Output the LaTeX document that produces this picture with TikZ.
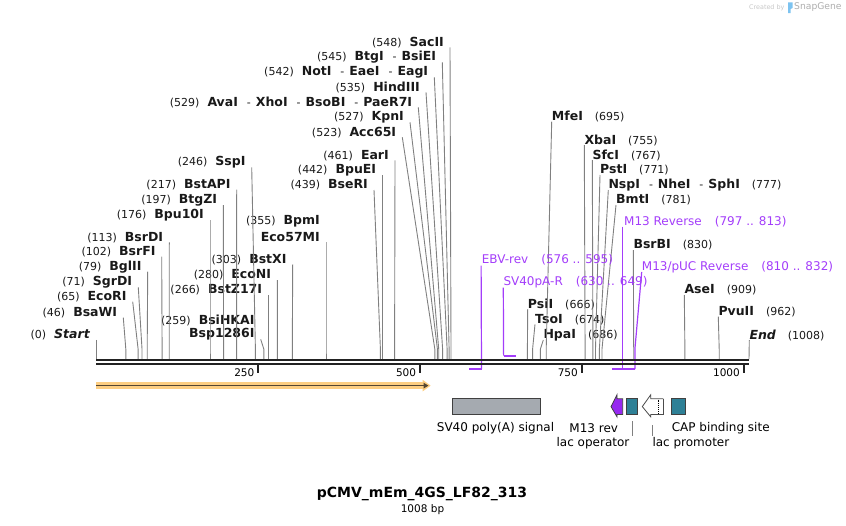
\documentclass[tikz,border=0pt]{standalone}
\usepackage{fontspec}
\setmainfont{DejaVu Sans}
\definecolor{cutgray}{RGB}{128,128,128}
\definecolor{primerpurple}{RGB}{163,61,250}
\definecolor{m13purple}{RGB}{150,40,240}
\definecolor{featteal}{RGB}{46,128,150}
\definecolor{featgray}{RGB}{165,170,176}
\definecolor{halo}{RGB}{253,206,130}
\definecolor{featdark}{RGB}{85,70,50}
\definecolor{backbone}{RGB}{34,34,34}
\definecolor{logoblue}{RGB}{125,195,240}
\usetikzlibrary{arrows.meta, calc}
\newcommand{\enz}[1]{{\fontsize{12.5}{14}\selectfont\bfseries #1}}
\newcommand{\enzend}[1]{{\fontsize{12.5}{14}\selectfont\bfseries\itshape #1}}
\newcommand{\enzsep}{\hspace{9pt}-\hspace{5pt}}
\tikzset{
    lsite/.style={anchor=east, inner sep=0pt, font=\fontsize{11}{13}\selectfont, text=black!90},
    rsite/.style={anchor=west, inner sep=0pt, font=\fontsize{11}{13}\selectfont, text=black!90},
    cutline/.style={draw=cutgray, line width=0.9pt},
    primerlbl/.style={anchor=west, inner sep=0pt, font=\fontsize{12}{14}\selectfont, text=primerpurple},
    primerline/.style={draw=primerpurple, line width=1.2pt},
    primerbar/.style={draw=primerpurple, line width=2pt},
    bbline/.style={draw=backbone, line width=2pt},
    tickline/.style={draw=backbone, line width=1.6pt},
    ticklbl/.style={anchor=east, inner sep=0pt, font=\fontsize{10.5}{12}\selectfont},
    featlbl/.style={inner sep=0pt, font=\fontsize{12}{14}\selectfont},
    featbox/.style={draw=black!75, line width=0.8pt, inner sep=0pt, minimum height=15.7pt},
}

\begin{document}
\begin{tikzpicture}[x=1pt, y=-1pt]
\useasboundingbox (0,0) rectangle (846,525);

% cut sites on the backbone
\coordinate (s0) at (96,359);
\coordinate (s46) at (125.8,359);
\coordinate (s65) at (138.1,359);
\coordinate (s71) at (142.0,359);
\coordinate (s79) at (147.2,359);
\coordinate (s102) at (162.1,359);
\coordinate (s113) at (169.2,359);
\coordinate (s176) at (210.0,359);
\coordinate (s197) at (223.6,359);
\coordinate (s217) at (236.6,359);
\coordinate (s246) at (255.4,359);
\coordinate (s259) at (263.8,359);
\coordinate (s266) at (268.3,359);
\coordinate (s280) at (277.4,359);
\coordinate (s303) at (292.3,359);
\coordinate (s355) at (326.0,359);
\coordinate (s439) at (380.4,359);
\coordinate (s442) at (382.3,359);
\coordinate (s461) at (394.6,359);
\coordinate (s523) at (434.8,359);
\coordinate (s527) at (437.4,359);
\coordinate (s529) at (438.7,359);
\coordinate (s535) at (442.6,359);
\coordinate (s542) at (447.1,359);
\coordinate (s545) at (449.1,359);
\coordinate (s548) at (451.0,359);
\coordinate (s666) at (527.4,359);
\coordinate (s674) at (532.6,359);
\coordinate (s686) at (540.4,359);
\coordinate (s695) at (546.2,359);
\coordinate (s755) at (585.1,359);
\coordinate (s767) at (592.9,359);
\coordinate (s771) at (595.5,359);
\coordinate (s777) at (599.4,359);
\coordinate (s781) at (602.0,359);
\coordinate (s830) at (633.7,359);
\coordinate (s909) at (684.9,359);
\coordinate (s962) at (719.2,359);
\coordinate (s1008) at (749.0,359);

% enzymes, left of their lines
\node[lsite] (start) at (90,334.3) {(0)\hspace{8pt}\enzend{Start}};
\node[lsite] (bsawi) at (117.3,312.7) {(46)\hspace{8pt}\enz{BsaWI}};
\node[lsite] (ecori) at (126.7,296.7) {(65)\hspace{8pt}\enz{EcoRI}};
\node[lsite] (sgrdi) at (132.3,282.3) {(71)\hspace{8pt}\enz{SgrDI}};
\node[lsite] (bglii) at (141.7,266.7) {(79)\hspace{8pt}\enz{BglII}};
\node[lsite] (bsrfi) at (155.7,251.7) {(102)\hspace{8pt}\enz{BsrFI}};
\node[lsite] (bsrdi) at (163.3,237.3) {(113)\hspace{8pt}\enz{BsrDI}};
\node[lsite] (bpuioi) at (204,215) {(176)\hspace{8pt}\enz{Bpu10I}};
\node[lsite] (btgzi) at (217.3,200) {(197)\hspace{8pt}\enz{BtgZI}};
\node[lsite] (bstapi) at (230.7,184.7) {(217)\hspace{8pt}\enz{BstAPI}};
\node[lsite] (sspi) at (245.7,162.3) {(246)\hspace{8pt}\enz{SspI}};
\node[lsite] (bsihkai) at (254.7,320) {(259)\hspace{8pt}\enz{BsiHKAI}};
\node[lsite] (bsp1286i) at (254.7,334.3) {\enz{Bsp1286I}};
\node[lsite] (bstz17i) at (262.3,290) {(266)\hspace{8pt}\enz{BstZ17I}};
\node[lsite] (econi) at (271.3,275) {(280)\hspace{8pt}\enz{EcoNI}};
\node[lsite] (bstxi) at (286.7,259.3) {(303)\hspace{8pt}\enz{BstXI}};
\node[lsite] (bpmi) at (320,221.7) {(355)\hspace{8pt}\enz{BpmI}};
\node[lsite] (eco57mi) at (320,237.3) {\enz{Eco57MI}};
\node[lsite] (bseri) at (368,185) {(439)\hspace{8pt}\enz{BseRI}};
\node[lsite] (bpuei) at (376.3,170.3) {(442)\hspace{8pt}\enz{BpuEI}};
\node[lsite] (eari) at (389,155.3) {(461)\hspace{8pt}\enz{EarI}};
\node[lsite] (acc65i) at (396.3,132.3) {(523)\hspace{8pt}\enz{Acc65I}};
\node[lsite] (kpni) at (404,117.3) {(527)\hspace{8pt}\enz{KpnI}};
\node[lsite] (avai) at (412.3,102.3) {(529)\hspace{8pt}\enz{AvaI}\enzsep\enz{XhoI}\enzsep\enz{BsoBI}\enzsep\enz{PaeR7I}};
\node[lsite] (hindiii) at (420,87.3) {(535)\hspace{8pt}\enz{HindIII}};
\node[lsite] (noti) at (428.3,72.3) {(542)\hspace{8pt}\enz{NotI}\enzsep\enz{EaeI}\enzsep\enz{EagI}};
\node[lsite] (btgi) at (436.3,57.3) {(545)\hspace{8pt}\enz{BtgI}\enzsep\enz{BsiEI}};
\node[lsite] (sacii) at (444,42.3) {(548)\hspace{8pt}\enz{SacII}};

\draw[cutline] ([xshift=6pt,yshift=-5.5pt]start.east) -- (s0);
\draw[cutline] ([xshift=6pt,yshift=-5pt]bsawi.east) -- ([yshift=10pt]s46) -- (s46);
\draw[cutline] ([xshift=6pt,yshift=-5pt]ecori.east) -- ([yshift=10pt]s65) -- (s65);
\draw[cutline] ([xshift=6pt,yshift=-5pt]sgrdi.east) -- ([yshift=10pt]s71) -- (s71);
\draw[cutline] ([xshift=6pt,yshift=-5pt]bglii.east) -- ([yshift=10pt]s79) -- (s79);
\draw[cutline] ([xshift=6pt,yshift=-5pt]bsrfi.east) -- ([yshift=10pt]s102) -- (s102);
\draw[cutline] ([xshift=6pt,yshift=-5pt]bsrdi.east) -- ([yshift=10pt]s113) -- (s113);
\draw[cutline] ([xshift=6pt,yshift=-5pt]bpuioi.east) -- ([yshift=10pt]s176) -- (s176);
\draw[cutline] ([xshift=6pt,yshift=-5pt]btgzi.east) -- ([yshift=10pt]s197) -- (s197);
\draw[cutline] ([xshift=6pt,yshift=-5pt]bstapi.east) -- ([yshift=10pt]s217) -- (s217);
\draw[cutline] ([xshift=6pt,yshift=-5pt]sspi.east) -- ([yshift=10pt]s246) -- (s246);
\draw[cutline] ([xshift=6pt,yshift=-5pt]bsp1286i.east) -- ([yshift=10pt]s259) -- (s259);
\draw[cutline] ([xshift=6pt,yshift=-5pt]bstz17i.east) -- ([yshift=10pt]s266) -- (s266);
\draw[cutline] ([xshift=6pt,yshift=-5pt]econi.east) -- ([yshift=10pt]s280) -- (s280);
\draw[cutline] ([xshift=6pt,yshift=-5pt]bstxi.east) -- ([yshift=10pt]s303) -- (s303);
\draw[cutline] ([xshift=6pt,yshift=-5pt]eco57mi.east) -- ([yshift=10pt]s355) -- (s355);
\draw[cutline] ([xshift=6pt,yshift=-5pt]bseri.east) -- ([yshift=10pt]s439) -- (s439);
\draw[cutline] ([xshift=6pt,yshift=-5pt]bpuei.east) -- ([yshift=10pt]s442) -- (s442);
\draw[cutline] ([xshift=6pt,yshift=-5pt]eari.east) -- ([yshift=10pt]s461) -- (s461);
\draw[cutline] ([xshift=6pt,yshift=-5pt]acc65i.east) -- ([yshift=10pt]s523) -- (s523);
\draw[cutline] ([xshift=6pt,yshift=-5pt]kpni.east) -- ([yshift=10pt]s527) -- (s527);
\draw[cutline] ([xshift=6pt,yshift=-5pt]avai.east) -- ([yshift=10pt]s529) -- (s529);
\draw[cutline] ([xshift=6pt,yshift=-5pt]hindiii.east) -- ([yshift=10pt]s535) -- (s535);
\draw[cutline] ([xshift=6pt,yshift=-5pt]noti.east) -- ([yshift=10pt]s542) -- (s542);
\draw[cutline] ([xshift=6pt,yshift=-5pt]btgi.east) -- ([yshift=10pt]s545) -- (s545);
\draw[cutline] ([xshift=6pt,yshift=-5pt]sacii.east) -- ([yshift=10pt]s548) -- (s548);

% enzymes, right of their lines
\node[rsite] (mfei) at (551.7,116.7) {\enz{MfeI}\hspace{12pt}(695)};
\node[rsite] (xbai) at (584.3,140) {\enz{XbaI}\hspace{12pt}(755)};
\node[rsite] (sfci) at (592.3,155) {\enz{SfcI}\hspace{12pt}(767)};
\node[rsite] (psti) at (600,170) {\enz{PstI}\hspace{12pt}(771)};
\node[rsite] (nspi) at (608.3,185) {\enz{NspI}\enzsep\enz{NheI}\enzsep\enz{SphI}\hspace{12pt}(777)};
\node[rsite] (bmti) at (616,200) {\enz{BmtI}\hspace{12pt}(781)};
\node[rsite] (bsrbi) at (633.3,245) {\enz{BsrBI}\hspace{12pt}(830)};
\node[rsite] (asei) at (684.3,290) {\enz{AseI}\hspace{12pt}(909)};
\node[rsite] (psii) at (527.7,304) {\enz{PsiI}\hspace{12pt}(666)};
\node[rsite] (pvuii) at (718.3,311.7) {\enz{PvuII}\hspace{12pt}(962)};
\node[rsite] (tsoi) at (535,319.3) {\enz{TsoI}\hspace{12pt}(674)};
\node[rsite] (hpai) at (543.3,335) {\enz{HpaI}\hspace{12pt}(686)};
\node[rsite] (endlbl) at (749.3,335) {\enzend{End}\hspace{12pt}(1008)};

\draw[cutline] ([yshift=-5pt]mfei.west) -- ([yshift=10pt]s695) -- (s695);
\draw[cutline] ([yshift=-5pt]xbai.west) -- ([yshift=10pt]s755) -- (s755);
\draw[cutline] ([yshift=-5pt]sfci.west) -- ([yshift=10pt]s767) -- (s767);
\draw[cutline] ([yshift=-5pt]psti.west) -- ([yshift=10pt]s771) -- (s771);
\draw[cutline] ([yshift=-5pt]nspi.west) -- ([yshift=10pt]s777) -- (s777);
\draw[cutline] ([yshift=-5pt]bmti.west) -- ([yshift=10pt]s781) -- (s781);
\draw[cutline] ([yshift=-5pt]bsrbi.west) -- ([yshift=10pt]s830) -- (s830);
\draw[cutline] ([yshift=-5pt]asei.west) -- ([yshift=10pt]s909) -- (s909);
\draw[cutline] ([yshift=-5pt]psii.west) -- ([yshift=10pt]s666) -- (s666);
\draw[cutline] ([yshift=-5pt]pvuii.west) -- ([yshift=10pt]s962) -- (s962);
\draw[cutline] ([yshift=-5pt]tsoi.west) -- ([yshift=10pt]s674) -- (s674);
\draw[cutline] ([yshift=-5pt]hpai.west) -- ([yshift=10pt]s686) -- (s686);
\draw[cutline] ([yshift=-5pt]endlbl.west) -- (s1008);

% primers
\coordinate (p576) at (469.1,369);
\coordinate (p595) at (481.5,369);
\coordinate (p630) at (503.6,355.5);
\coordinate (p649) at (515.6,355.5);
\coordinate (p797) at (612.3,369);
\coordinate (p813) at (622.7,369);
\coordinate (p810) at (620.7,369);
\coordinate (p832) at (635.0,369);

\node[primerlbl] (ebvrev) at (481.7,260) {EBV-rev\hspace{13pt}(576 .. 595)};
\node[primerlbl] (sv40par) at (503.3,281.7) {SV40pA-R\hspace{13pt}(630 .. 649)};
\node[primerlbl] (m13rev) at (624,221.7) {M13 Reverse\hspace{13pt}(797 .. 813)};
\node[primerlbl] (m13puc) at (641.7,266.7) {M13/pUC Reverse\hspace{13pt}(810 .. 832)};

\draw[primerline] ([xshift=-0.6pt,yshift=-5.5pt]ebvrev.west) -- (p595);
\draw[primerbar] (p576) -- (p595);
\draw[primerline] ([yshift=-6pt]sv40par.west) -- (p630);
\draw[primerbar] (p630) -- (p649);
\draw[primerline] ([xshift=-1.3pt,yshift=-5pt]m13rev.west) -- (p813);
\draw[primerbar] (p797) -- (p813);
\draw[primerline] ([yshift=-5.3pt]m13puc.west) -- ([yshift=21pt]p832) -- (p832);
\draw[primerbar] (p810) -- (p832);

% backbone and scale
\draw[bbline] (s0 |- 0,360) -- (s1008 |- 0,360);
\draw[bbline] (s0 |- 0,364) -- (s1008 |- 0,364);
\draw[tickline] (258,365) -- (258,372.5);
\draw[tickline] (420,365) -- (420,372.5);
\draw[tickline] (581.8,365) -- (581.8,372.5);
\draw[tickline] (743.7,365) -- (743.7,372.5);
\node[ticklbl] (t250) at (254.5,372.2) {250};
\node[ticklbl] (t500) at (416.3,372.2) {500};
\node[ticklbl] (t750) at (578,372.2) {750};
\node[ticklbl] (t1000) at (740,372.2) {1000};

% features
\draw[halo, line width=6.5pt, -{Triangle[length=8pt,width=11pt]}] (96,385.6) -- (430.7,385.6);
\draw[featdark, line width=1.6pt, -{Triangle[length=5pt,width=5.5pt]}] (96,385.6) -- (428.5,385.6);

\node[featbox, fill=featgray, minimum width=88.3pt] (sv40pa) at (496.5,406.6) {};
\node[featlbl] (sv40palbl) at (495.5,427.7) {SV40 poly(A) signal};

\filldraw[draw=black!75, fill=m13purple, line width=0.8pt] (622.7,398.8) -- (617,398.8) -- (617,394.8) -- (611,406.6) -- (617,416.8) -- (617,414.5) -- (622.7,414.5) -- cycle;
\node[featlbl] (m13revlbl) at (593.7,427.7) {M13 rev};

\node[featbox, fill=featteal, minimum width=11pt] (lacop) at (632.2,406.6) {};
\node[featlbl] (lacoplbl) at (593,443.3) {lac operator};
\draw[cutline] ([yshift=-6.5pt]lacop.south) -- ([yshift=-21.5pt]lacop.south);

\filldraw[draw=black!70, fill=white, line width=0.8pt] (663.3,398.8) -- (650.7,398.8) -- (650.7,394.8) -- (642.3,406.6) -- (650.7,416.8) -- (650.7,414.5) -- (663.3,414.5);
\draw[draw=black!70, line width=0.6pt] (663.3,398.8) -- (663.3,414.5);
\draw[black, line width=0.9pt, densely dotted] (658.3,399.5) -- (658.3,414);
\coordinate (lacpro) at (652.3,414.5);
\node[featlbl, anchor=west] (lacprolbl) at (652.3,443.3) {lac promoter};
\draw[cutline] ([yshift=-10.5pt]lacpro) -- ([yshift=-21.5pt]lacpro);

\node[featbox, fill=featteal, minimum width=14.7pt] (cap) at (678.3,406.6) {};
\node[featlbl] (caplbl) at (720.7,427.7) {CAP binding site};

% title
\node[font=\fontsize{14}{16}\selectfont\bfseries, inner sep=0pt] (title) at (422,494.3) {pCMV\_mEm\_4GS\_LF82\_313};
\node[font=\fontsize{10.5}{12}\selectfont, inner sep=0pt] (bp) at (422.5,509.3) {1008 bp};

% watermark
\node[anchor=west, inner sep=0pt, text=black!22, font=\fontsize{6.4}{8}\selectfont] (createdby) at (749,7.3) {Created by};
\fill[logoblue] (788,2.3) -- (792.5,2.3) -- (792.5,8) -- (790.6,9) -- (790.6,13) -- (788,13) -- cycle;
\node[anchor=west, inner sep=0pt, text=black!32, font=\fontsize{9.2}{11}\selectfont] (snapgene) at (794,7.3) {SnapGene};
\end{tikzpicture}
\end{document}
